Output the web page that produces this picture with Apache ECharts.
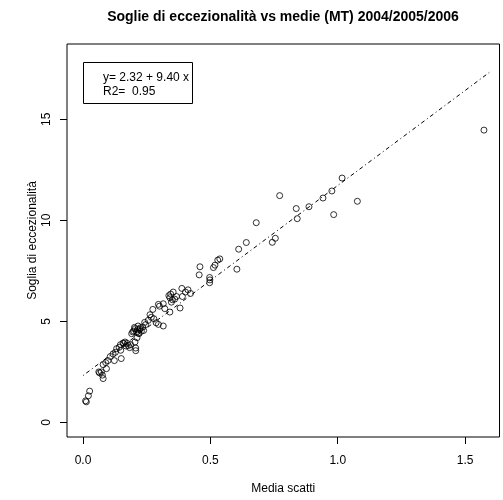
<!DOCTYPE html>
<html><head><meta charset="utf-8">
<script src="https://cdn.jsdelivr.net/npm/echarts@6/dist/echarts.min.js"></script>
<style>html,body{margin:0;padding:0;background:#fff}#c{width:503px;height:500px}</style>
</head><body><div id="c"></div>
<script>
var mediaScatti = [1.574,1.017,0.772,0.977,0.942,1.077,0.887,0.837,0.841,0.984,0.680,0.641,0.611,0.755,0.743,0.604,0.537,0.529,0.518,0.512,0.459,0.456,0.497,0.497,0.388,0.412,0.422,0.402,0.390,0.354,0.367,0.337,0.341,0.347,0.351,0.381,0.341,0.321,0.315,0.296,0.274,0.263,0.278,0.287,0.296,0.315,0.256,0.246,0.234,0.223,0.216,0.204,0.199,0.210,0.220,0.229,0.191,0.212,0.204,0.187,0.183,0.207,0.207,0.174,0.165,0.169,0.157,0.147,0.142,0.132,0.148,0.150,0.127,0.118,0.107,0.123,0.098,0.089,0.079,0.092,0.062,0.072,0.076,0.079,0.065,0.026,0.021,0.010,0.013,0.214,0.225,0.218,0.202,0.238,0.195,0.178,0.160,0.242,0.268,0.300,0.360,0.344,0.498];
var soglia = [14.46,12.09,11.22,11.45,11.10,10.94,10.67,10.58,10.08,10.28,9.88,8.90,8.57,9.11,8.91,7.58,8.09,8.03,7.78,7.66,7.70,7.30,7.17,6.91,6.63,6.56,6.38,6.45,6.23,6.45,6.23,6.27,6.17,5.95,6.07,5.66,5.46,5.63,5.87,5.84,5.59,5.33,5.13,4.93,4.85,4.77,5.05,4.84,4.72,4.61,4.77,4.64,4.52,4.47,4.39,4.51,4.39,4.19,3.98,3.85,3.70,3.68,3.55,3.91,3.98,3.78,3.93,3.85,3.72,3.65,3.57,3.16,3.47,3.39,3.26,3.06,3.06,2.96,2.86,2.66,2.50,2.50,2.34,2.17,2.45,1.55,1.32,1.07,1.02,4.58,4.68,4.42,4.70,4.55,4.48,3.80,3.90,4.95,5.20,5.75,6.10,6.35,7.05];
var fitIntercept = 2.32, fitSlope = 9.40;
var fitX = [0, 1.595];
var xTicks = [0, 0.5, 1, 1.5];
var yTicks = [0, 5, 10, 15];
var titleText = 'Soglie di eccezionalità vs medie (MT) 2004/2005/2006';
var legendLines = ['y= 2.32 + 9.40 x', 'R2=  0.95'];

var pts = mediaScatti.map(function(x, i){ return [x, soglia[i]]; });
var fit = fitX.map(function(x){ return [x, fitIntercept + fitSlope * x]; });
var FONT = 'Liberation Sans, Arial, Helvetica, sans-serif';

var chart = echarts.init(document.getElementById('c'), null, {renderer: 'canvas'});
chart.setOption({
  animation: false,
  backgroundColor: '#fff',
  title: {
    text: titleText, left: 278, top: 5, textAlign: 'center',
    textStyle: {fontFamily: FONT, fontWeight: 'bold', fontSize: 14, color: '#000'}
  },
  grid: {left: 67, right: 3.5, top: 44, bottom: 61, show: true, borderColor: '#000', borderWidth: 1, containLabel: false},
  xAxis: {
    type: 'value', min: -0.0629, max: 1.635,
    name: 'Media scatti', nameLocation: 'middle', nameGap: 46, nameMoveOverlap: false,
    nameTextStyle: {fontFamily: FONT, fontSize: 12, color: '#000'},
    axisLine: {show: false, onZero: false},
    splitLine: {show: false},
    axisTick: {show: true, inside: false, length: 7, customValues: xTicks, lineStyle: {color: '#000'}},
    axisLabel: {customValues: xTicks, margin: 18, fontFamily: FONT, fontSize: 12, color: '#000',
      formatter: function(v){ return v.toFixed(1); }}
  },
  yAxis: {
    type: 'value', min: -0.72, max: 18.72,
    name: 'Soglia di eccezionalità', nameLocation: 'middle', nameGap: 28, nameMoveOverlap: false,
    nameTextStyle: {fontFamily: FONT, fontSize: 12, color: '#000'},
    axisLine: {show: false, onZero: false},
    splitLine: {show: false},
    axisTick: {show: true, inside: false, length: 7, customValues: yTicks, lineStyle: {color: '#000'}},
    axisLabel: {customValues: yTicks, rotate: 90, margin: 14, fontFamily: FONT, fontSize: 12, color: '#000',
      formatter: function(v){ return String(Math.round(v)); }}
  },
  graphic: [{
    type: 'group', left: 83, top: 62,
    children: [
      {type: 'rect', shape: {x: 0.5, y: 0.5, width: 109, height: 41}, style: {fill: '#fff', stroke: '#000', lineWidth: 1}},
      {type: 'text', style: {x: 20, y: 9, text: legendLines.join('\n'), lineHeight: 14, font: '12px ' + FONT, fill: '#000'}}
    ]
  }],
  series: [
    {type: 'scatter', data: pts, symbol: 'circle', symbolSize: 6,
     itemStyle: {color: 'rgba(0,0,0,0)', borderColor: '#000', borderWidth: 1}},
    {type: 'line', data: fit, symbol: 'none', silent: true,
     lineStyle: {color: '#000', width: 1, type: [1, 3, 4, 3]}}
  ]
});
</script></body></html>
